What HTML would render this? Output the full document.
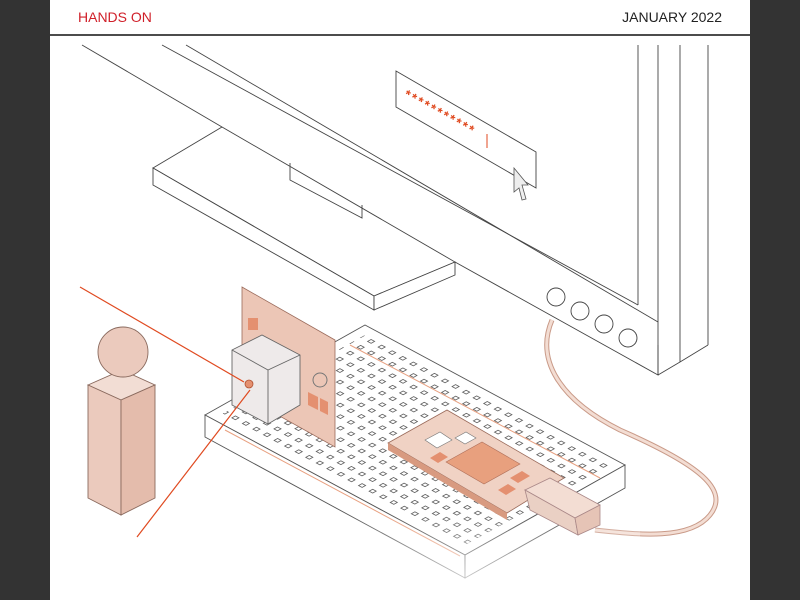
<!DOCTYPE html>
<html><head><style>
body{margin:0;width:800px;height:600px;background:#333;overflow:hidden;font-family:"Liberation Sans",sans-serif}
#p{position:absolute;left:50px;top:0;width:700px;height:600px;background:#fff}
.h{position:absolute;top:9px;font-size:14px}
</style></head><body>
<div id="p"></div>
<div class="h" style="left:78px;color:#d0202a">HANDS ON</div>
<div class="h" style="right:78px;color:#222">JANUARY 2022</div>
<svg width="800" height="600" style="position:absolute;left:0;top:0">
<defs>
<pattern id="dots" width="12" height="12" patternUnits="userSpaceOnUse" patternTransform="matrix(0.88,0.47,-0.87,0.49,0,0)">
<rect x="4" y="4" width="4" height="4" fill="none" stroke="#555" stroke-width="0.9"/>
</pattern>
<linearGradient id="fade" x1="0" y1="0" x2="0" y2="1"><stop offset="0.6" stop-color="#fff" stop-opacity="0"/><stop offset="1" stop-color="#fff" stop-opacity="0.9"/></linearGradient>
</defs>
<line x1="50" y1="35" x2="750" y2="35" stroke="#111" stroke-width="1.5"/>
<g stroke="#444" stroke-width="0.9" fill="#fff">
<line x1="82" y1="45" x2="222" y2="127"/>
<polygon points="153,168 222,127 455,262 374,296"/>
<polygon points="153,168 374,296 374,310 153,185"/>
<polygon points="374,296 455,262 455,275 374,310"/>
<polyline points="290,163 290,180 362,218 362,205" fill="none"/>
<line x1="162" y1="45" x2="638" y2="305"/>
<line x1="186" y1="45" x2="658" y2="322"/>
<polyline points="455,262 658,375 658,345" fill="none"/>
<line x1="638" y1="45" x2="638" y2="305"/>
<line x1="658" y1="45" x2="658" y2="375"/>
<line x1="680" y1="45" x2="680" y2="362"/>
<line x1="708" y1="45" x2="708" y2="345"/>
<polyline points="658,375 680,362 708,345" fill="none"/>
<polygon points="396,71 536,152 536,188 396,107"/>
<circle cx="556" cy="297" r="9"/><circle cx="580" cy="311" r="9"/><circle cx="604" cy="324" r="9"/><circle cx="628" cy="338" r="9"/>
</g>
<text x="403" y="97" fill="#e04a20" font-size="13" font-weight="bold" transform="rotate(29 403 97)" letter-spacing="2.2">***********</text>
<line x1="487" y1="134" x2="487" y2="148" stroke="#e04a20"/>
<polygon points="514,168 528,185 522,185 526,199 522,200 519,188 514,192" fill="#eee" stroke="#555" stroke-width="0.8"/>
<path d="M552,320 C535,360 560,400 620,430 C700,465 730,490 710,515 C690,540 640,535 595,530" fill="none" stroke="#c99a88" stroke-width="5"/>
<path d="M552,320 C535,360 560,400 620,430 C700,465 730,490 710,515 C690,540 640,535 595,530" fill="none" stroke="#f3ddd3" stroke-width="3"/>
<g stroke="#555" stroke-width="0.9">
<polygon points="205,415 365,325 625,465 465,555" fill="#fff"/>
<polygon points="205,415 465,555 465,578 205,437" fill="#fff"/>
<polygon points="465,555 625,465 625,488 465,578" fill="#fff"/>
<polygon points="220,415 365,335 610,465 465,545" fill="url(#dots)" stroke="none"/>
</g>
<line x1="350" y1="345" x2="600" y2="478" stroke="#e8a080"/>
<line x1="225" y1="430" x2="460" y2="556" stroke="#e8a080"/>
<rect x="200" y="380" width="440" height="220" fill="url(#fade)"/>
<polygon points="388,443 447,410 564,478 507,513" fill="#f0d2c4" stroke="#9a6a5a" stroke-width="0.8"/>
<polygon points="388,443 507,513 507,520 388,450" fill="#d89a80"/>
<polygon points="446,462 482,442 520,464 484,484" fill="#e8a07e" stroke="#b0705a" stroke-width="0.6"/>
<polygon points="425,440 440,432 452,440 437,448" fill="#fff" stroke="#777" stroke-width="0.6"/>
<polygon points="455,438 466,432 476,438 465,444" fill="#fff" stroke="#777" stroke-width="0.6"/>
<polygon points="510,478 522,471 530,476 518,483" fill="#e49070"/>
<polygon points="498,490 508,484 516,489 506,495" fill="#e49070"/>
<polygon points="430,458 440,452 448,457 438,463" fill="#e49070"/>
<polygon points="525,490 550,478 600,505 575,518" fill="#f3ddd3" stroke="#a88" stroke-width="0.8"/>
<polygon points="525,490 575,518 578,535 530,510" fill="#ead0c4" stroke="#a88" stroke-width="0.8"/>
<polygon points="575,518 600,505 600,525 578,535" fill="#e6c4b6" stroke="#a88" stroke-width="0.8"/>
<polygon points="242,287 335,340 335,447 242,395" fill="#ecc6b6" stroke="#9a6a5a" stroke-width="0.8"/>
<rect x="248" y="318" width="10" height="12" fill="#e49070"/>
<polygon points="320,398 328,402 328,415 320,411" fill="#e49070"/>
<polygon points="308,392 318,397 318,410 308,405" fill="#e49070"/>
<circle cx="320" cy="380" r="7" fill="none" stroke="#777"/>
<polygon points="232,350 262,335 300,355 300,405 268,424 232,405" fill="#eeeaea" stroke="#666" stroke-width="0.9"/>
<polyline points="232,350 268,370 300,355" fill="none" stroke="#666" stroke-width="0.9"/>
<line x1="268" y1="370" x2="268" y2="424" stroke="#666" stroke-width="0.9"/>
<circle cx="249" cy="384" r="4" fill="#e49070" stroke="#b05030" stroke-width="0.8"/>
<g stroke="#8a6a5e" stroke-width="0.9">
<polygon points="88,385 122,370 155,385 121,400" fill="#f2ddd4"/>
<polygon points="88,385 121,400 121,515 88,498" fill="#ebcabd"/>
<polygon points="121,400 155,385 155,498 121,515" fill="#e4bcac"/>
<circle cx="123" cy="352" r="25" fill="#ebcabd"/>
</g>
<line x1="80" y1="287" x2="244" y2="382" stroke="#e04a20" stroke-width="1.2"/>
<line x1="250" y1="390" x2="137" y2="537" stroke="#e04a20" stroke-width="1.2"/>
</svg>
</body></html>
